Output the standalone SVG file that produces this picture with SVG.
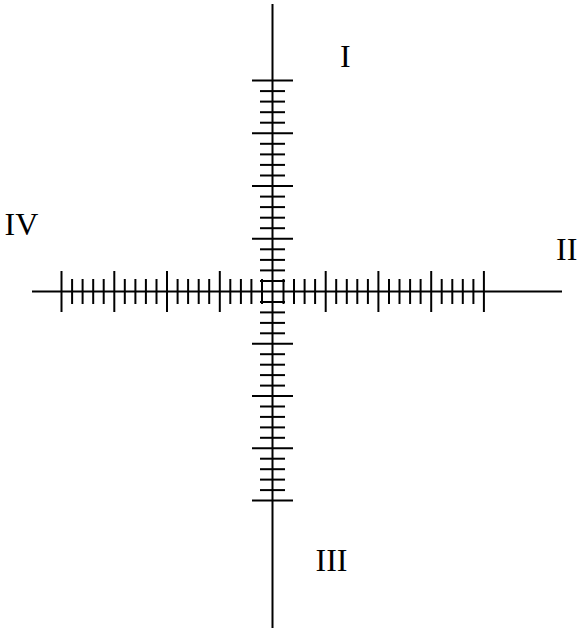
<svg xmlns="http://www.w3.org/2000/svg" width="577" height="630" viewBox="0 0 577 630">
<style>
.ax{stroke:#000;stroke-width:2;fill:none}
.lbl{font-family:"Liberation Serif","Times New Roman",serif;font-size:32px;fill:#000}
</style>
<defs>
<path id="vs" d="M-12.5,0H12.5" class="ax"/>
<path id="vl" d="M-20.5,0H20.5" class="ax"/>
<path id="hs" d="M0,-12.5V12.5" class="ax"/>
<path id="hl" d="M0,-20.5V20.5" class="ax"/>
</defs>
<rect width="577" height="630" fill="#fff"/>
<g id="axes">
<path class="ax" d="M272.5,4V628"/>
<path class="ax" d="M32,291.5H562"/>
</g>
<g id="vertical-ticks" transform="translate(272.5,0)">
<use href="#vs" y="281"/><use href="#vs" y="270.4"/><use href="#vs" y="259.9"/><use href="#vs" y="249.3"/><use href="#vl" y="238.8"/>
<use href="#vs" y="228.2"/><use href="#vs" y="217.7"/><use href="#vs" y="207.1"/><use href="#vs" y="196.6"/><use href="#vl" y="186"/>
<use href="#vs" y="175.5"/><use href="#vs" y="164.9"/><use href="#vs" y="154.4"/><use href="#vs" y="143.8"/><use href="#vl" y="133.3"/>
<use href="#vs" y="122.7"/><use href="#vs" y="112.2"/><use href="#vs" y="101.6"/><use href="#vs" y="91.1"/><use href="#vl" y="80.5"/>
<use href="#vs" y="302"/><use href="#vs" y="312.4"/><use href="#vs" y="322.9"/><use href="#vs" y="333.3"/><use href="#vl" y="343.8"/>
<use href="#vs" y="354.2"/><use href="#vs" y="364.7"/><use href="#vs" y="375.1"/><use href="#vs" y="385.6"/><use href="#vl" y="396"/>
<use href="#vs" y="406.5"/><use href="#vs" y="416.9"/><use href="#vs" y="427.4"/><use href="#vs" y="437.8"/><use href="#vl" y="448.3"/>
<use href="#vs" y="458.7"/><use href="#vs" y="469.2"/><use href="#vs" y="479.6"/><use href="#vs" y="490.1"/><use href="#vl" y="500.5"/>
</g>
<g id="horizontal-ticks" transform="translate(0,291.5)">
<use href="#hs" x="262"/><use href="#hs" x="251.4"/><use href="#hs" x="240.9"/><use href="#hs" x="230.3"/><use href="#hl" x="219.8"/>
<use href="#hs" x="209.2"/><use href="#hs" x="198.7"/><use href="#hs" x="188.1"/><use href="#hs" x="177.6"/><use href="#hl" x="167"/>
<use href="#hs" x="156.5"/><use href="#hs" x="145.9"/><use href="#hs" x="135.4"/><use href="#hs" x="124.8"/><use href="#hl" x="114.3"/>
<use href="#hs" x="103.7"/><use href="#hs" x="93.2"/><use href="#hs" x="82.6"/><use href="#hs" x="72.1"/><use href="#hl" x="61.5"/>
<use href="#hs" x="283.5"/><use href="#hs" x="294"/><use href="#hs" x="304.6"/><use href="#hs" x="315.1"/><use href="#hl" x="325.7"/>
<use href="#hs" x="336.2"/><use href="#hs" x="346.8"/><use href="#hs" x="357.3"/><use href="#hs" x="367.9"/><use href="#hl" x="378.4"/>
<use href="#hs" x="389"/><use href="#hs" x="399.5"/><use href="#hs" x="410.1"/><use href="#hs" x="420.6"/><use href="#hl" x="431.2"/>
<use href="#hs" x="441.7"/><use href="#hs" x="452.3"/><use href="#hs" x="462.8"/><use href="#hs" x="473.4"/><use href="#hl" x="483.9"/>
</g>
<g id="label-I"><text class="lbl" x="340" y="67">I</text></g>
<g id="label-II"><text class="lbl" x="556" y="260">II</text></g>
<g id="label-III"><text class="lbl" x="315.5" y="571">III</text></g>
<g id="label-IV"><text class="lbl" x="4.5" y="235">IV</text></g>
</svg>
